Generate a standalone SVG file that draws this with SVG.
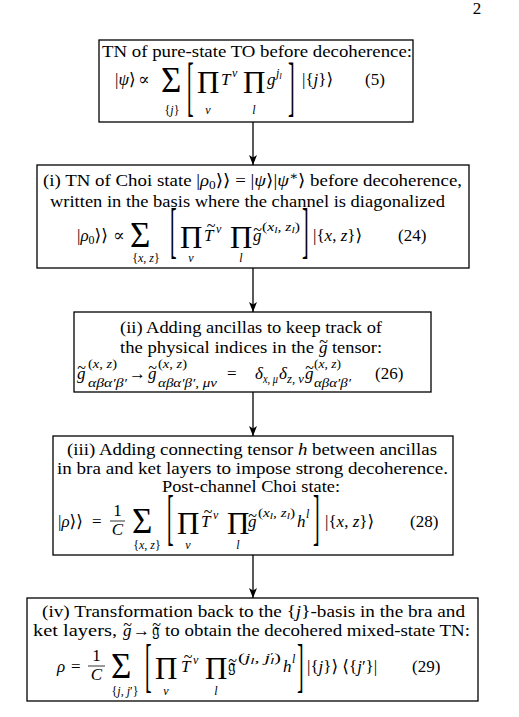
<svg xmlns="http://www.w3.org/2000/svg" width="519" height="717" viewBox="0 0 519 717">
<style>
text{font-family:"Liberation Serif","DejaVu Serif",serif;font-size:17px;fill:#000}
.c{text-anchor:middle}
.e{text-anchor:end}
.i{font-style:italic}
.sm{font-size:12px}
.xs{font-size:9px}
.big{font-size:31px}
.sig{font-size:35px}
.br{font-size:20px}
.tl{font-size:16px;text-anchor:middle}
.box{fill:#fff;stroke:#000;stroke-width:1.3}
.conn line{stroke:#000;stroke-width:1.3}
</style>
<defs>
<marker id="ah" markerUnits="userSpaceOnUse" markerWidth="10" markerHeight="8" viewBox="0 0 10 8" refX="10" refY="4" orient="auto">
<path d="M0,0 L10,4 L0,8 L2.5,4 z" fill="#000"/>
</marker>
</defs>
<rect width="519" height="717" fill="#fff"/>
<text x="477" y="14" class="c">2</text>

<g class="conn" id="connectors">
<line x1="253" y1="122" x2="253" y2="165" marker-end="url(#ah)"/>
<line x1="253" y1="268" x2="253" y2="312" marker-end="url(#ah)"/>
<line x1="253" y1="392" x2="253" y2="436" marker-end="url(#ah)"/>
<line x1="253" y1="555" x2="253" y2="598" marker-end="url(#ah)"/>
</g>

<g id="node1">
<rect class="box" x="99" y="40" width="314" height="82"/>
<text x="102" y="57" textLength="310" lengthAdjust="spacingAndGlyphs">TN of pure-state TO before decoherence:</text>
<text x="115" y="85">|<tspan class="i">ψ</tspan>⟩</text>
<text x="138" y="85">∝</text>
<text x="161" y="92" class="sig">Σ</text>
<text x="172" y="114" class="sm c">{<tspan class="i">j</tspan>}</text>
<text transform="translate(187,108.1) scale(1,3.31)" class="br">[</text>
<text x="197" y="93" class="big">Π</text>
<text x="208" y="114" class="sm c i">v</text>
<text x="221" y="85" class="i">T</text>
<text x="232" y="77" class="sm i">v</text>
<text x="243" y="93" class="big">Π</text>
<text x="254" y="114" class="sm c i">l</text>
<text x="267" y="85" class="i">g</text>
<text x="276" y="77" class="sm i">j<tspan class="xs" dy="2">l</tspan></text>
<text transform="translate(288,108.1) scale(1,3.31)" class="br">]</text>
<text x="302" y="85">|{<tspan class="i">j</tspan>}⟩</text>
<text x="365" y="85">(5)</text>
</g>

<g id="node2">
<rect class="box" x="37" y="165" width="432" height="103"/>
<text x="43" y="186" textLength="419" lengthAdjust="spacingAndGlyphs">(i) TN of Choi state |<tspan class="i">ρ</tspan><tspan class="sm" dy="3">0</tspan><tspan dy="-3">⟩⟩ = |</tspan><tspan class="i">ψ</tspan>⟩|<tspan class="i">ψ</tspan><tspan class="sm" dy="-6">∗</tspan><tspan dy="6">⟩ before decoherence,</tspan></text>
<text x="50" y="207" textLength="395" lengthAdjust="spacingAndGlyphs">written in the basis where the channel is diagonalized</text>
<text x="77" y="241">|<tspan class="i">ρ</tspan><tspan class="sm" dy="3">0</tspan><tspan dy="-3">⟩⟩</tspan></text>
<text x="113" y="241">∝</text>
<text x="130" y="247" class="sig">Σ</text>
<text x="146" y="262" class="sm c">{<tspan class="i">x</tspan>, <tspan class="i">z</tspan>}</text>
<text transform="translate(170,251.1) scale(1,3.02)" class="br">[</text>
<text x="180" y="248" class="big">Π</text>
<text x="191" y="262" class="sm c i">v</text>
<text x="204" y="241" class="i">T</text>
<text x="211" y="231" class="tl">~</text>
<text x="216" y="233" class="sm i">v</text>
<text x="230" y="248" class="big">Π</text>
<text x="241" y="262" class="sm c i">l</text>
<text x="253" y="241" class="i">g</text>
<text x="257.5" y="235" class="tl">~</text>
<text x="262" y="231" class="sm" textLength="38" lengthAdjust="spacingAndGlyphs">(<tspan class="i">x</tspan><tspan class="xs i" dy="2">l</tspan><tspan dy="-2">, </tspan><tspan class="i">z</tspan><tspan class="xs i" dy="2">l</tspan><tspan dy="-2">)</tspan></text>
<text transform="translate(302,251.1) scale(1,3.02)" class="br">]</text>
<text x="313" y="241">|{<tspan class="i">x</tspan>, <tspan class="i">z</tspan>}⟩</text>
<text x="398" y="241">(24)</text>
</g>

<g id="node3">
<rect class="box" x="74" y="312" width="357" height="80"/>
<text x="120" y="333" textLength="262" lengthAdjust="spacingAndGlyphs">(ii) Adding ancillas to keep track of</text>
<text x="120" y="353" textLength="194" lengthAdjust="spacingAndGlyphs">the physical indices in the</text>
<text x="319" y="353" class="i">g</text>
<text x="323.5" y="347" class="tl">~</text>
<text x="332" y="353" textLength="50" lengthAdjust="spacingAndGlyphs">tensor:</text>
<text x="77" y="379" class="i">g</text>
<text x="81.5" y="373" class="tl">~</text>
<text x="88" y="368" class="sm" textLength="29" lengthAdjust="spacingAndGlyphs">(<tspan class="i">x</tspan>, <tspan class="i">z</tspan>)</text>
<text x="88" y="387" class="sm i" textLength="39" lengthAdjust="spacingAndGlyphs">αβα′β′</text>
<text x="129" y="379">→</text>
<text x="148" y="379" class="i">g</text>
<text x="152.5" y="373" class="tl">~</text>
<text x="158" y="368" class="sm" textLength="29" lengthAdjust="spacingAndGlyphs">(<tspan class="i">x</tspan>, <tspan class="i">z</tspan>)</text>
<text x="158" y="387" class="sm i" textLength="59" lengthAdjust="spacingAndGlyphs">αβα′β′, μν</text>
<text x="227" y="379">=</text>
<text x="255" y="379" class="i">δ</text>
<text x="263" y="383" class="sm i" textLength="15" lengthAdjust="spacingAndGlyphs">x, μ</text>
<text x="279" y="379" class="i">δ</text>
<text x="287" y="383" class="sm i" textLength="17" lengthAdjust="spacingAndGlyphs">z, ν</text>
<text x="305" y="379" class="i">g</text>
<text x="309.5" y="373" class="tl">~</text>
<text x="314" y="368" class="sm" textLength="27" lengthAdjust="spacingAndGlyphs">(<tspan class="i">x</tspan>, <tspan class="i">z</tspan>)</text>
<text x="314" y="387" class="sm i" textLength="37" lengthAdjust="spacingAndGlyphs">αβα′β′</text>
<text x="375" y="379">(26)</text>
</g>

<g id="node4">
<rect class="box" x="53" y="436" width="400" height="119"/>
<text x="67" y="455" textLength="370" lengthAdjust="spacingAndGlyphs">(iii) Adding connecting tensor <tspan class="i">h</tspan> between ancillas</text>
<text x="57" y="474" textLength="391" lengthAdjust="spacingAndGlyphs">in bra and ket layers to impose strong decoherence.</text>
<text x="162" y="492" textLength="178" lengthAdjust="spacingAndGlyphs">Post-channel Choi state:</text>
<text x="58" y="527">|<tspan class="i">ρ</tspan>⟩⟩</text>
<text x="92" y="527">=</text>
<text x="117.5" y="516" class="c">1</text>
<line x1="110" y1="521" x2="125" y2="521" stroke="#000" stroke-width="0.8"/>
<text x="117.5" y="535" class="c i">C</text>
<text x="132" y="533" class="sig">Σ</text>
<text x="147" y="549" class="sm c">{<tspan class="i">x</tspan>, <tspan class="i">z</tspan>}</text>
<text transform="translate(167,538.1) scale(1,3.02)" class="br">[</text>
<text x="177" y="534" class="big">Π</text>
<text x="188" y="549" class="sm c i">v</text>
<text x="201" y="527" class="i">T</text>
<text x="208" y="517" class="tl">~</text>
<text x="213" y="519" class="sm i">v</text>
<text x="227" y="534" class="big">Π</text>
<text x="238" y="549" class="sm c i">l</text>
<text x="248" y="527" class="i">g</text>
<text x="252.5" y="521" class="tl">~</text>
<text x="258" y="517" class="sm" textLength="37" lengthAdjust="spacingAndGlyphs">(<tspan class="i">x</tspan><tspan class="xs i" dy="2">l</tspan><tspan dy="-2">, </tspan><tspan class="i">z</tspan><tspan class="xs i" dy="2">l</tspan><tspan dy="-2">)</tspan></text>
<text x="297" y="527" class="i">h</text>
<text x="306" y="518" class="sm i">l</text>
<text transform="translate(313,538.1) scale(1,3.02)" class="br">]</text>
<text x="325" y="527">|{<tspan class="i">x</tspan>, <tspan class="i">z</tspan>}⟩</text>
<text x="410" y="527">(28)</text>
</g>

<g id="node5">
<rect class="box" x="27" y="598" width="451" height="103"/>
<text x="42" y="617" textLength="423" lengthAdjust="spacingAndGlyphs">(iv) Transformation back to the {<tspan class="i">j</tspan>}-basis in the bra and</text>
<text x="33" y="636" textLength="84" lengthAdjust="spacingAndGlyphs">ket layers,</text>
<text x="123" y="636" class="i">g</text>
<text x="127.5" y="630" class="tl">~</text>
<text x="133" y="636">→</text>
<text x="152" y="636">𝔤</text>
<text x="156.5" y="630" class="tl">~</text>
<text x="165" y="636" textLength="305" lengthAdjust="spacingAndGlyphs">to obtain the decohered mixed-state TN:</text>
<text x="57" y="672" class="i">ρ</text>
<text x="71" y="672">=</text>
<text x="96.5" y="661" class="c">1</text>
<line x1="88" y1="666" x2="105" y2="666" stroke="#000" stroke-width="0.8"/>
<text x="96.5" y="680" class="c i">C</text>
<text x="111" y="678" class="sig">Σ</text>
<text x="125" y="695" class="sm c">{<tspan class="i">j</tspan>, <tspan class="i">j</tspan>′}</text>
<text transform="translate(145,684.5) scale(1,3.0)" class="br">[</text>
<text x="155" y="679" class="big">Π</text>
<text x="166" y="695" class="sm c i">v</text>
<text x="181" y="672" class="i">T</text>
<text x="188" y="662" class="tl">~</text>
<text x="193" y="664" class="sm i">v</text>
<text x="205" y="679" class="big">Π</text>
<text x="216" y="695" class="sm c i">l</text>
<text x="228" y="672">𝔤</text>
<text x="232.5" y="666" class="tl">~</text>
<text x="238" y="662" class="sm" textLength="43" lengthAdjust="spacingAndGlyphs">(<tspan class="i">j</tspan><tspan class="xs i" dy="2">l</tspan><tspan dy="-2">, </tspan><tspan class="i">j</tspan><tspan class="xs" dy="-3">′</tspan><tspan class="xs i" dy="5" dx="-2">l</tspan><tspan dy="-2">)</tspan></text>
<text x="283" y="672" class="i">h</text>
<text x="292" y="663" class="sm i">l</text>
<text transform="translate(297,684.5) scale(1,3.0)" class="br">]</text>
<text x="307" y="672">|{<tspan class="i">j</tspan>}⟩ ⟨{<tspan class="i">j</tspan>′}|</text>
<text x="412" y="672">(29)</text>
</g>
</svg>
